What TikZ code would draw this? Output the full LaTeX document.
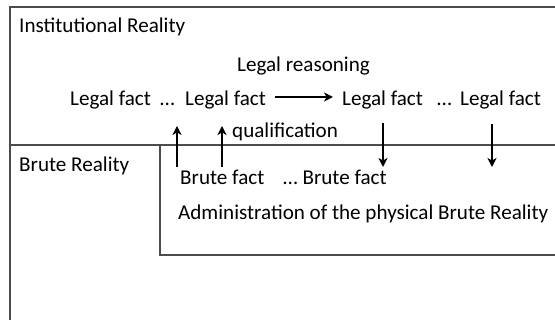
\documentclass[tikz,border=0pt]{standalone}
\usepackage{fontspec}
\setmainfont{Carlito}
\usetikzlibrary{arrows.meta}
\begin{document}
\begin{tikzpicture}[x=1pt,y=-1pt,
  txt/.style={inner sep=0pt,anchor=base west,font=\fontsize{21.1}{24}\selectfont},
  frame/.style={draw=black!70,line width=1.3pt},
  conn/.style={draw=black,line width=1.4pt,-{Stealth[length=9pt,width=9pt,inset=2.5pt]}}]
\useasboundingbox (0,0) rectangle (555,320);
% frames
\draw[frame] (555,7) -- (10,7) -- (10,320);
\draw[frame] (10,145) -- (555,145);
\draw[frame] (160,145) -- (160,255) -- (555,255);
% texts
\node[txt] (inst) at (19,33) {Institutional Reality};
\node[txt] (reas) at (237,72) {Legal reasoning};
\node[txt] (lf1) at (70,106) {Legal fact};
\node[txt] (d1) at (160,106) {…};
\node[txt] (lf2) at (185,106) {Legal fact};
\node[txt] (lf3) at (342,106) {Legal fact};
\node[txt] (d2) at (437,106) {…};
\node[txt] (lf4) at (460,106) {Legal fact};
\node[txt] (qual) at (232,138) {qualification};
\node[txt] (brute) at (19,172) {Brute Reality};
\node[txt] (bf1) at (180,185) {Brute fact};
\node[txt] (bf2) at (283,185) {… Brute fact};
\node[txt] (adm) at (178,220) {Administration of the physical Brute Reality};
% connector ends
\coordinate (u1s) at (177,167); \coordinate (u1e) at (177,126);
\coordinate (u2s) at (222,167); \coordinate (u2e) at (222,126);
\coordinate (hs) at (275,97); \coordinate (he) at (333,97);
\coordinate (d1s) at (383,123); \coordinate (d1e) at (383,167);
\coordinate (d2s) at (492,124); \coordinate (d2e) at (492,167);
\draw[conn] (u1s) -- (u1e);
\draw[conn] (u2s) -- (u2e);
\draw[conn] (hs) -- (he);
\draw[conn] (d1s) -- (d1e);
\draw[conn] (d2s) -- (d2e);
\end{tikzpicture}
\end{document}
